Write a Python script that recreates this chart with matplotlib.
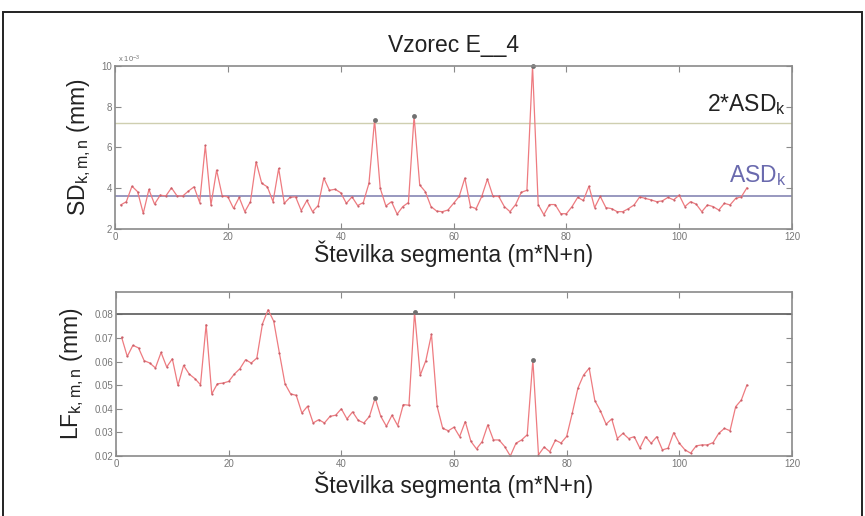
import numpy as np
import matplotlib
matplotlib.use("Agg")
import matplotlib.pyplot as plt
from matplotlib.patches import Rectangle

plt.rcParams['font.family'] = ['Liberation Sans', 'DejaVu Sans']
plt.rcParams['mathtext.fontset'] = 'custom'
plt.rcParams['mathtext.rm'] = 'Liberation Sans'
plt.rcParams['mathtext.it'] = 'Liberation Sans'

# segment number m*N+n
segments = np.arange(1, 113)

# SD_k,m,n in units of 1e-3 mm
sd_e3 = [3.18, 3.34, 4.10, 3.83, 2.77, 3.94, 3.22, 3.66, 3.62, 4.02,
         3.62, 3.62, 3.86, 4.07, 3.30, 6.10, 3.18, 4.89, 3.62, 3.58,
         3.01, 3.55, 2.85, 3.34, 5.30, 4.24, 4.07, 3.34, 4.97, 3.26,
         3.55, 3.58, 2.90, 3.40, 2.85, 3.15, 4.50, 3.90, 3.95, 3.78,
         3.26, 3.58, 3.15, 3.30, 4.24, 7.35, 4.00, 3.13, 3.34, 2.73,
         3.10, 3.30, 7.54, 4.16, 3.83, 3.10, 2.88, 2.85, 2.93, 3.26,
         3.60, 4.50, 3.10, 3.00, 3.60, 4.45, 3.60, 3.60, 3.10, 2.85,
         3.20, 3.80, 3.90, 10.0, 3.20, 2.70, 3.20, 3.20, 2.75, 2.75,
         3.10, 3.55, 3.40, 4.10, 3.05, 3.60, 3.05, 3.00, 2.85, 2.85,
         3.00, 3.18, 3.58, 3.50, 3.43, 3.34, 3.38, 3.55, 3.43, 3.66,
         3.10, 3.34, 3.22, 2.85, 3.18, 3.10, 2.93, 3.26, 3.18, 3.50,
         3.58, 4.02]

# LF_k,m,n in mm
lf = [0.0703, 0.0622, 0.0669, 0.0658, 0.0604, 0.0594, 0.0573, 0.0639, 0.0577, 0.0612,
      0.0499, 0.0584, 0.0547, 0.0528, 0.0502, 0.0757, 0.0463, 0.0506, 0.0509, 0.0516,
      0.0547, 0.0570, 0.0608, 0.0594, 0.0615, 0.0760, 0.0820, 0.0771, 0.0637, 0.0506,
      0.0463, 0.0457, 0.0382, 0.0411, 0.0340, 0.0354, 0.0340, 0.0368, 0.0373, 0.0400,
      0.0357, 0.0387, 0.0351, 0.0340, 0.0368, 0.0446, 0.0368, 0.0326, 0.0373, 0.0329,
      0.0418, 0.0415, 0.0810, 0.0542, 0.0604, 0.0716, 0.0411, 0.0317, 0.0307, 0.0322,
      0.0282, 0.0346, 0.0262, 0.0230, 0.0261, 0.0332, 0.0268, 0.0268, 0.0240, 0.0200,
      0.0254, 0.0268, 0.0290, 0.0607, 0.0205, 0.0238, 0.0218, 0.0267, 0.0255, 0.0283,
      0.0382, 0.0488, 0.0543, 0.0572, 0.0435, 0.0391, 0.0335, 0.0357, 0.0274, 0.0296,
      0.0274, 0.0282, 0.0233, 0.0282, 0.0254, 0.0282, 0.0226, 0.0233, 0.0299, 0.0254,
      0.0226, 0.0212, 0.0243, 0.0247, 0.0247, 0.0257, 0.0296, 0.0317, 0.0307, 0.0409,
      0.0437, 0.0501]

flagged = [46, 53, 74]
asd_e3 = 3.6
lf_limit = 0.08

line_col = '#ee7b80'
dot_col = '#c8606a'
flag_col = '#707070'
frame_col = '#8a8a8a'

fig = plt.figure(figsize=(8.65, 5.16), dpi=100)

# outer frame of the scanned figure
fig.add_artist(Rectangle((3 / 865, -0.05), 859 / 865, 1.05 - 11.5 / 516,
                         transform=fig.transFigure, fill=False,
                         edgecolor='#222222', linewidth=1.4))

ax1 = fig.add_axes([0.133, 0.5562, 0.7827, 0.3159])
ax2 = fig.add_axes([0.1341, 0.1163, 0.7815, 0.3178])


def style_axes(ax):
    for s in ax.spines.values():
        s.set_color(frame_col)
        s.set_linewidth(1.2)
    ax.tick_params(direction='in', length=4, width=0.8, colors=frame_col,
                   labelsize=7, labelcolor='#777777', top=True, right=True, pad=2)
    ax.set_xlim(0, 120)
    ax.set_xticks(np.arange(0, 121, 20))


sd_arr = np.array(sd_e3)
lf_arr = np.array(lf)
idx = np.array(flagged) - 1

# top: SD
ax1.axhline(2 * asd_e3, color='#cfcfb0', lw=1.0)
ax1.axhline(asd_e3, color='#7c7cae', lw=1.1)
ax1.plot(segments, sd_arr, '-', color=line_col, lw=0.9)
ax1.plot(segments, sd_arr, 'o', color=dot_col, ms=1.6, mec='none')
ax1.plot(segments[idx], sd_arr[idx], 'o', color=flag_col, ms=3.5, mec='none', clip_on=False)
ax1.set_ylim(2, 10)
ax1.set_yticks([2, 4, 6, 8, 10])
style_axes(ax1)
ax1.text(0.005, 1.005, r'x 10$^{-3}$', transform=ax1.transAxes, fontsize=5.5,
         color='#777777', va='bottom', ha='left')
ax1.text(119, 2 * asd_e3 + 0.9, r'2*ASD$_\mathregular{k}$', fontsize=16.5,
         ha='right', va='center', color='#222222')
ax1.text(119, asd_e3 + 1.0, r'ASD$_\mathregular{k}$', fontsize=16.5,
         ha='right', va='center', color='#6a6aae')
ax1.set_title('Vzorec E__4', fontsize=16.5, pad=10, color='#222222')
ax1.set_xlabel('Številka segmenta (m*N+n)', fontsize=16.5, labelpad=-1, color='#222222')
ax1.set_ylabel(r'SD$_\mathregular{k,m,n}$ (mm)', fontsize=16.5, labelpad=6, color='#222222')

# bottom: LF
ax2.axhline(lf_limit, color='#666666', lw=1.3)
ax2.plot(segments, lf_arr, '-', color=line_col, lw=0.9)
ax2.plot(segments, lf_arr, 'o', color=dot_col, ms=1.6, mec='none')
ax2.plot(segments[idx], lf_arr[idx], 'o', color=flag_col, ms=3.5, mec='none')
ax2.set_ylim(0.02, 0.0895)
ax2.set_yticks([0.02, 0.03, 0.04, 0.05, 0.06, 0.07, 0.08])
ax2.set_yticklabels(['0.02', '0.03', '0.04', '0.05', '0.06', '0.07', '0.08'])
style_axes(ax2)
ax2.set_xlabel('Številka segmenta (m*N+n)', fontsize=16.5, labelpad=2, color='#222222')
ax2.set_ylabel(r'LF$_\mathregular{k,m,n}$ (mm)', fontsize=16.5, labelpad=6, color='#222222')

fig.savefig('out.png', dpi=100, facecolor='white')
